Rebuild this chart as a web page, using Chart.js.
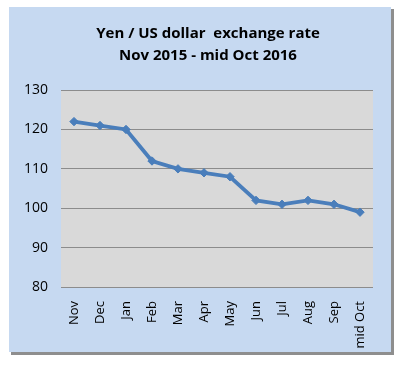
<!DOCTYPE html>
<html>
<head>
<meta charset="utf-8">
<script src="https://cdn.jsdelivr.net/npm/chart.js@4.4.0/dist/chart.umd.min.js"></script>
<style>
  html, body { margin: 0; padding: 0; background: #ffffff; }
  #wrap { width: 403px; height: 369px; }
</style>
</head>
<body>
<div id="wrap"><canvas id="c" width="403" height="369"></canvas></div>
<script>
const categories = ["Nov", "Dec", "Jan", "Feb", "Mar", "Apr", "May", "Jun", "Jul", "Aug", "Sep", "mid Oct"];
const yenPerDollar = [122, 121, 120, 112, 110, 109, 108, 102, 101, 102, 101, 99];
const titleLines = ["Yen / US dollar  exchange rate", "Nov 2015 - mid Oct 2016"];
const yMin = 80, yMax = 130, yStep = 10;

const panelPlugin = {
  id: 'panel',
  beforeDraw(chart) {
    const ctx = chart.ctx;
    const ca = chart.chartArea;
    ctx.save();
    ctx.fillStyle = '#ffffff';
    ctx.fillRect(0, 0, chart.width, chart.height);
    // shadow
    ctx.fillStyle = '#8e8e8e';
    ctx.fillRect(11, 9, 383, 346);
    // panel
    ctx.fillStyle = '#c6d9f1';
    ctx.fillRect(9, 7, 382, 345);
    // plot area
    ctx.fillStyle = '#d9d9d9';
    ctx.fillRect(ca.left, ca.top, ca.right - ca.left, ca.bottom - ca.top);
    ctx.restore();
  }
};

new Chart(document.getElementById('c'), {
  type: 'line',
  data: {
    labels: categories,
    datasets: [{
      data: yenPerDollar,
      borderColor: '#4a7ebb',
      backgroundColor: '#4a7ebb',
      borderWidth: 3.8,
      pointStyle: 'rectRot',
      pointRadius: 4.2,
      pointBorderWidth: 1,
      tension: 0
    }]
  },
  options: {
    responsive: false,
    animation: false,
    devicePixelRatio: 1,
    layout: { padding: { left: 13, right: 0, top: 0, bottom: 16 } },
    plugins: {
      legend: { display: false },
      tooltip: { enabled: false },
      title: {
        display: true,
        text: titleLines,
        color: '#000000',
        font: { family: 'Open Sans', size: 15, weight: 'bold', lineHeight: 1.47 },
        padding: { top: 23, bottom: 23 }
      }
    },
    scales: {
      x: {
        offset: true,
        grid: { display: false, offset: true },
        border: { display: false },
        ticks: {
          color: '#000000',
          font: { family: 'Open Sans', size: 13 },
          minRotation: 90,
          maxRotation: 90,
          padding: 6
        },
        afterFit(scale) { scale.height = 66; }
      },
      y: {
        min: yMin,
        max: yMax,
        grid: { color: '#8c8c8c', lineWidth: 1, drawTicks: false },
        border: { display: false },
        ticks: {
          stepSize: yStep,
          color: '#000000',
          font: { family: 'Open Sans', size: 14 },
          padding: 13
        },
        afterFit(scale) { scale.width = 48; }
      },
      spacer: {
        type: 'linear',
        position: 'right',
        display: true,
        grid: { display: false },
        border: { display: false },
        ticks: { display: false },
        afterFit(scale) { scale.width = 30; }
      }
    }
  },
  plugins: [panelPlugin]
});
</script>
</body>
</html>
